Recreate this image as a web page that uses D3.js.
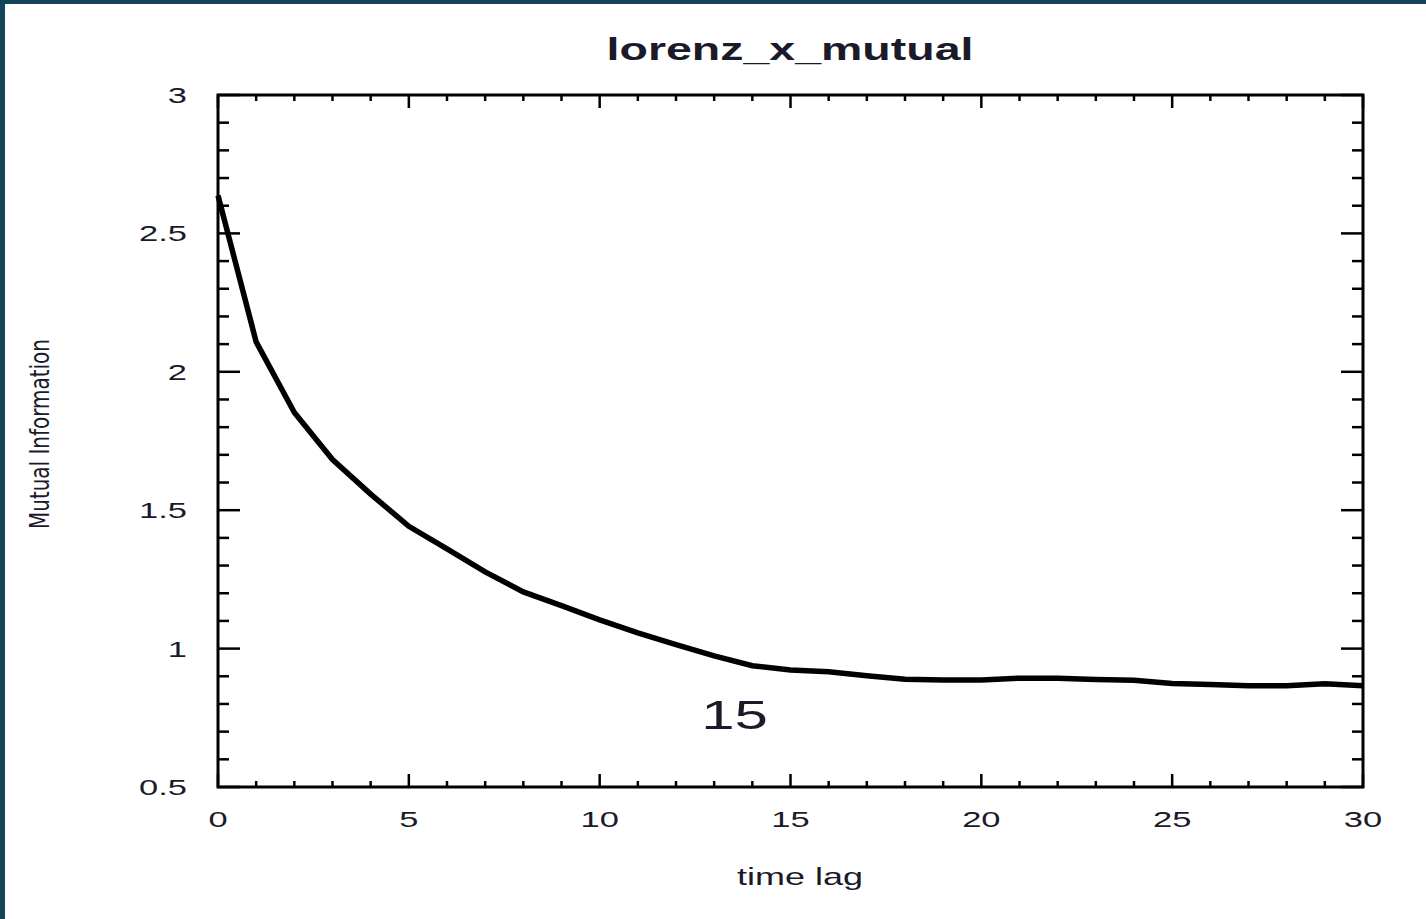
<!DOCTYPE html>
<html>
<head>
<meta charset="utf-8">
<script src="https://cdn.jsdelivr.net/npm/d3@7"></script>
<style>
  html, body { margin: 0; padding: 0; background: #fff; }
  svg { display: block; }
</style>
</head>
<body>
<script>
// Average mutual information of the Lorenz x series against time lag
const lags = d3.range(0, 31);
const mutualInfo = [
  2.637, 2.108, 1.853, 1.683, 1.558, 1.442, 1.360, 1.277, 1.205, 1.155,
  1.104, 1.057, 1.014, 0.974, 0.938, 0.923, 0.916, 0.902, 0.889, 0.887,
  0.887, 0.893, 0.893, 0.888, 0.886, 0.874, 0.870, 0.866, 0.866, 0.873,
  0.866
];
const xTicks = [0, 5, 10, 15, 20, 25, 30];
const yTicks = [0.5, 1, 1.5, 2, 2.5, 3];
const chartTitle = "lorenz_x_mutual";
const xLabel = "time lag";
const yLabel = "Mutual Information";
const markLag = 15;

const W = 1426, H = 919;
const plot = { left: 218, right: 1363, top: 95, bottom: 787 };
const FONT = "Liberation Sans, Arial, sans-serif";
const WIDEN = 1.5;          // horizontally stretched lettering
const textColor = "#1a1a2a";

const svg = d3.select("body").append("svg")
  .attr("width", W).attr("height", H);

// frame
svg.append("rect").attr("x", 0).attr("y", 0).attr("width", W).attr("height", H)
  .attr("fill", "#ffffff");
svg.append("rect").attr("x", 0).attr("y", 0).attr("width", W).attr("height", 4)
  .attr("fill", "#14445a");
svg.append("rect").attr("x", 0).attr("y", 0).attr("width", 5).attr("height", H)
  .attr("fill", "#14445a");

const x = d3.scaleLinear().domain([0, 30]).range([plot.left, plot.right]);
const y = d3.scaleLinear().domain([0.5, 3]).range([plot.bottom, plot.top]);

const g = svg.append("g");

// wide text placed at (px, py)
function wideText(parent, px, py, str, size, anchor, weight) {
  return parent.append("text")
    .attr("transform", `translate(${px},${py}) scale(${WIDEN},1)`)
    .attr("text-anchor", anchor)
    .attr("font-family", FONT)
    .attr("font-weight", weight || "normal")
    .attr("font-size", size)
    .attr("fill", textColor)
    .text(str);
}

// tick marks on all four sides, pointing inward
const xMinor = d3.range(0, 31);
const yMinor = d3.range(5, 31).map(d => d / 10);
const tickG = g.append("g").attr("stroke", "#000").attr("stroke-width", 2.5);
xMinor.forEach(v => {
  const major = v % 5 === 0;
  const len = major ? 13 : 6;
  tickG.append("line").attr("x1", x(v)).attr("x2", x(v))
    .attr("y1", plot.bottom).attr("y2", plot.bottom - len);
  tickG.append("line").attr("x1", x(v)).attr("x2", x(v))
    .attr("y1", plot.top).attr("y2", plot.top + len);
});
yMinor.forEach(v => {
  const major = Math.abs(v * 2 - Math.round(v * 2)) < 1e-9;
  const len = major ? 22 : 11;
  tickG.append("line").attr("y1", y(v)).attr("y2", y(v))
    .attr("x1", plot.left).attr("x2", plot.left + len);
  tickG.append("line").attr("y1", y(v)).attr("y2", y(v))
    .attr("x1", plot.right).attr("x2", plot.right - len);
});

// plot box
g.append("rect")
  .attr("x", plot.left).attr("y", plot.top)
  .attr("width", plot.right - plot.left).attr("height", plot.bottom - plot.top)
  .attr("fill", "none").attr("stroke", "#000").attr("stroke-width", 3);

// tick labels
xTicks.forEach(d => wideText(g, x(d), 827, d, 23, "middle"));
yTicks.forEach(d => wideText(g, 187, y(d) + 8, d, 23, "end"));

// curve
const line = d3.line()
  .x((d, i) => x(lags[i]))
  .y(d => y(d));
g.append("path")
  .datum(mutualInfo)
  .attr("d", line)
  .attr("fill", "none")
  .attr("stroke", "#000")
  .attr("stroke-width", 5.5)
  .attr("stroke-linejoin", "miter");

// chosen lag annotation
wideText(g, x(markLag) - 56, 729, markLag, 40, "middle");

// title and axis labels
wideText(svg, 790, 60, chartTitle, 31, "middle", "bold");
wideText(svg, 800, 885, xLabel, 24, "middle");

svg.append("text")
  .attr("transform", "translate(49,434) rotate(-90)")
  .attr("text-anchor", "middle")
  .attr("font-family", "DejaVu Sans Condensed, Liberation Sans Narrow, sans-serif")
  .attr("font-size", 27).attr("fill", textColor)
  .attr("textLength", 190).attr("lengthAdjust", "spacingAndGlyphs")
  .text(yLabel);
</script>
</body>
</html>
